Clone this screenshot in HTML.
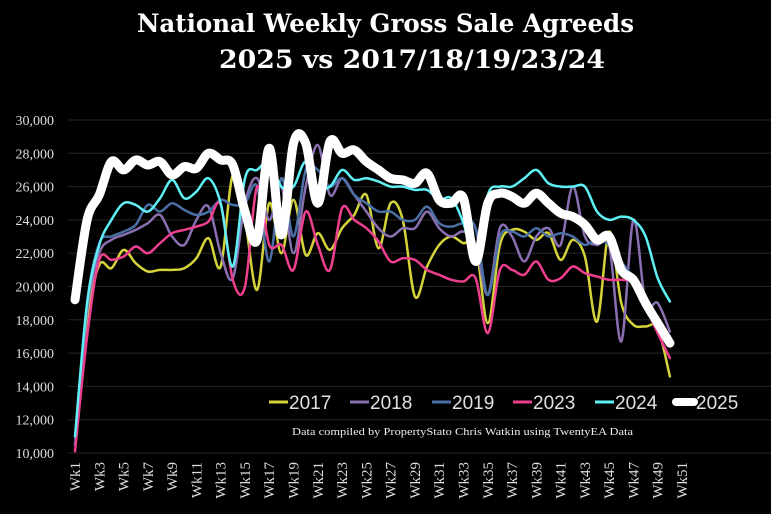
<!DOCTYPE html>
<html><head><meta charset="utf-8">
<style>
html,body{margin:0;padding:0;background:#000;}
svg{display:block;}
</style></head>
<body>
<svg id="c" width="771" height="514" viewBox="0 0 771 514" xmlns="http://www.w3.org/2000/svg">
<rect width="771" height="514" fill="#000"/>
<text x="137" y="32" textLength="497" lengthAdjust="spacingAndGlyphs" fill="#fff" font-family="DejaVu Serif, serif" font-weight="bold" font-size="25">National Weekly Gross Sale Agreeds</text>
<text x="219" y="68" textLength="386" lengthAdjust="spacingAndGlyphs" fill="#fff" font-family="DejaVu Serif, serif" font-weight="bold" font-size="25">2025 vs 2017/18/19/23/24</text>
<g id="grid"></g>
<g id="series"></g>
<g font-family="Liberation Sans, sans-serif" font-size="19" fill="#e0e0e0">
<line x1="269" y1="402" x2="288" y2="402" stroke="#d4d43a" stroke-width="3"/><text x="289" y="409">2017</text>
<line x1="350" y1="402" x2="369" y2="402" stroke="#8a6fb0" stroke-width="3"/><text x="370" y="409">2018</text>
<line x1="432" y1="402" x2="451" y2="402" stroke="#4a6fa5" stroke-width="3"/><text x="452" y="409">2019</text>
<line x1="513" y1="402" x2="532" y2="402" stroke="#ee3f8f" stroke-width="3"/><text x="533" y="409">2023</text>
<line x1="595" y1="402" x2="614" y2="402" stroke="#5ef0f5" stroke-width="3"/><text x="615" y="409">2024</text>
<line x1="676" y1="402" x2="694" y2="402" stroke="#fff" stroke-width="8" stroke-linecap="round"/><text x="696" y="409">2025</text>
</g>
<text x="292" y="435" textLength="341" lengthAdjust="spacingAndGlyphs" fill="#eee" font-family="Liberation Serif, serif" font-size="10.5">Data compiled by PropertyStato Chris Watkin using TwentyEA Data</text>
<g id="xl"></g>
</svg>
<script>
var NS="http://www.w3.org/2000/svg";
function X(w){return 75+(w-1)*12.14;}
function Y(v){return 453-(v-10000)*0.01665;}
var grid=document.getElementById('grid');
for(var v=10000;v<=30000;v+=2000){
 var y=Y(v);
 var l=document.createElementNS(NS,'line');
 l.setAttribute('x1',68);l.setAttribute('x2',771);l.setAttribute('y1',y);l.setAttribute('y2',y);
 l.setAttribute('stroke','#262626');l.setAttribute('stroke-width','1');grid.appendChild(l);
 var t=document.createElementNS(NS,'text');
 t.setAttribute('x',54);t.setAttribute('y',y+5);t.setAttribute('text-anchor','end');
 t.setAttribute('fill','#ddd');t.setAttribute('font-family','Liberation Serif, serif');t.setAttribute('font-size','14');
 t.textContent=(v/1000)+',000';grid.appendChild(t);
}
var xl=document.getElementById('xl');
for(var w=1;w<=51;w+=2){
 var t=document.createElementNS(NS,'text');
 var x=X(w)+5;
 t.setAttribute('transform','translate('+x+',462) rotate(-90)');
 t.setAttribute('text-anchor','end');
 t.setAttribute('fill','#ddd');t.setAttribute('font-family','Liberation Serif, serif');t.setAttribute('font-size','15');
 t.textContent='Wk'+w;xl.appendChild(t);
}
var D={
y17:[10500,18000,21300,21100,22200,21400,20900,21000,21000,21100,21700,22900,21200,26700,24000,19800,25000,22000,25200,21900,23200,22200,23500,24300,25500,22300,25000,24000,19400,21200,22500,23000,22600,22500,17800,22500,23400,23300,22800,23200,21600,22800,21800,17900,23300,19000,17700,17600,17500,14600],
y18:[10500,18500,22000,22800,23100,23400,23800,24300,23000,22500,24000,24800,22000,20500,25000,26500,24000,26000,22000,26000,28500,25500,26500,25500,24500,23500,23000,23500,23500,24500,23500,23000,23300,22500,19500,23500,23000,21500,23000,23500,22500,26000,23000,22500,22500,16700,24000,19000,19000,17300],
y19:[10500,19000,22600,23000,23300,23700,24900,24500,25000,24600,24300,24500,25200,24900,25000,26000,21500,26500,23000,27000,27000,26000,26500,25500,25000,24500,24500,24000,24000,24800,23800,23600,23800,23500,19500,23000,23300,23000,23500,23000,23200,23000,22500,22800,22500,21500,20500,19000,18000,17000],
y23:[10100,17000,21600,21600,21800,22400,22000,22600,23200,23400,23600,23900,24900,20400,20000,26000,22500,22500,21000,24500,22500,21000,24700,24000,23500,22700,21500,21700,21600,21000,20700,20400,20300,20500,17200,21000,21000,20700,21500,20400,20500,21200,20800,20600,20400,20400,20200,18800,17200,15700],
y24:[11000,19000,22500,24000,25000,24900,24500,25300,26400,25300,25700,26500,25000,21200,26500,27000,27500,26000,26000,27500,26000,26000,27000,26400,26500,26300,26000,26000,25800,25800,25200,25300,23800,21500,25500,26000,26000,26500,27000,26200,26000,26000,26000,24500,24000,24200,24000,23000,20500,19100],
y25:[19200,24000,25500,27500,27000,27600,27300,27500,26700,27200,27100,28000,27600,27300,24500,22800,28300,23100,28600,28600,25000,28700,28000,28200,27500,27000,26500,26400,26200,26800,25200,25000,25300,21500,25000,25600,25400,25000,25600,25000,24400,24200,23700,22800,23000,21000,20400,19000,17800,16600]
};
function path(a){
 var p=a.map(function(v,i){return [X(i+1),Y(v)];});
 var d='M'+p[0][0].toFixed(1)+','+p[0][1].toFixed(1);
 for(var i=0;i<p.length-1;i++){
  var p0=p[i-1]||p[i],p1=p[i],p2=p[i+1],p3=p[i+2]||p2;
  var c1=[p1[0]+(p2[0]-p0[0])/6,p1[1]+(p2[1]-p0[1])/6];
  var c2=[p2[0]-(p3[0]-p1[0])/6,p2[1]-(p3[1]-p1[1])/6];
  d+='C'+c1[0].toFixed(1)+','+c1[1].toFixed(1)+' '+c2[0].toFixed(1)+','+c2[1].toFixed(1)+' '+p2[0].toFixed(1)+','+p2[1].toFixed(1);
 }
 return d;
}
var S=[['y17','#d4d43a',2.5],['y18','#8a6fb0',2.5],['y19','#4a6fa5',2.5],['y23','#ee3f8f',2.5],['y24','#5ef0f5',2.5],['y25','#ffffff',9]];
var g=document.getElementById('series');
S.forEach(function(s){
 var e=document.createElementNS(NS,'path');
 e.setAttribute('d',path(D[s[0]]));e.setAttribute('fill','none');
 e.setAttribute('stroke',s[1]);e.setAttribute('stroke-width',s[2]);
 e.setAttribute('stroke-linecap','round');e.setAttribute('stroke-linejoin','round');
 g.appendChild(e);
});
</script>
</body></html>
